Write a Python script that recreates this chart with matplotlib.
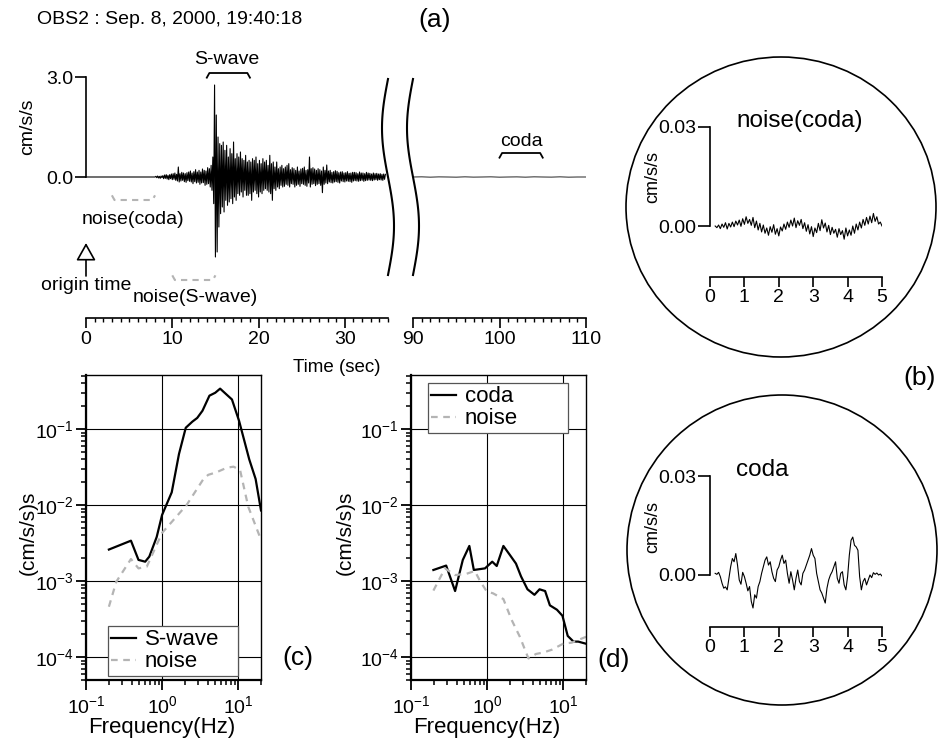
import numpy as np
import matplotlib.pyplot as plt
from matplotlib.patches import Ellipse, FancyArrowPatch
from matplotlib.lines import Line2D
from matplotlib.ticker import LogLocator, NullFormatter, LogFormatterMathtext, MultipleLocator

plt.rcParams['font.family'] = ['Liberation Sans', 'DejaVu Sans']
plt.rcParams['mathtext.fontset'] = 'custom'
plt.rcParams['mathtext.rm'] = 'Liberation Sans'
plt.rcParams['mathtext.it'] = 'Liberation Sans:italic'
plt.rcParams['mathtext.bf'] = 'Liberation Sans:bold'

W, H = 939, 744

# ---------------- data ----------------
# (a) acceleration record (cm/s/s); quiet until 8 s, then one value every 0.1 s
trace_start = 8.0
trace_dt = 0.1
trace_vals = [
    0.00, 0.02, -0.02, 0.03, -0.03, 0.02, -0.04, 0.03, -0.02, 0.04,     # 8
    -0.05, 0.06, -0.04, 0.07, -0.06, 0.05, -0.08, 0.07, -0.05, 0.09,    # 9
    -0.08, 0.10, -0.07, 0.12, -0.10, 0.08, -0.12, 0.30, -0.15, 0.10,    # 10
    -0.12, 0.14, -0.10, 0.12, -0.14, 0.10, -0.16, 0.13, -0.11, 0.15,    # 11
    -0.13, 0.18, -0.15, 0.12, -0.20, 0.16, -0.14, 0.22, -0.18, 0.15,    # 12
    -0.16, 0.20, -0.22, 0.15, -0.18, 0.24, -0.17, 0.20, -0.25, 0.18,    # 13
    -0.22, 0.28, -0.20, 0.25, -0.30, 0.35, -0.40, 0.60, -0.80, 2.76,    # 14
    -2.40, 1.86, -2.25, 1.20, -1.50, 1.00, -1.10, 0.95, -0.90, 1.05,    # 15
    -1.05, 0.80, -0.70, 0.95, -0.85, 0.60, -0.75, 0.85, -0.65, 0.70,    # 16
    -0.80, 1.05, -0.60, 0.55, -0.70, 0.70, -0.50, 0.60, -0.55, 0.75,    # 17
    -0.45, 0.55, -0.60, 0.50, -0.40, 0.65, -0.55, 0.45, -0.55, 0.50,    # 18
    -0.50, 0.45, -0.70, 0.55, -0.45, 0.50, -0.40, 0.60, -0.50, 0.40,    # 19
    -0.60, 0.50, -0.45, 0.40, -0.50, 0.55, -0.40, 0.45, -0.35, 0.50,    # 20
    -0.40, 0.35, -0.45, 0.65, -0.50, 0.40, -0.70, 0.45, -0.35, 0.30,    # 21
    -0.40, 0.45, -0.30, 0.25, -0.35, 0.30, -0.25, 0.35, -0.30, 0.25,    # 22
    -0.28, 0.30, -0.22, 0.35, -0.25, 0.40, -0.30, 0.22, -0.20, 0.28,    # 23
    -0.22, 0.25, -0.30, 0.20, -0.25, 0.30, -0.22, 0.18, -0.28, 0.24,    # 24
    -0.20, 0.26, -0.22, 0.30, -0.25, 0.20, -0.28, 0.22, -0.18, 0.60,    # 25
    -0.30, 0.25, -0.22, 0.28, -0.20, 0.24, -0.26, 0.20, -0.22, 0.25,    # 26
    -0.20, 0.22, -0.25, 0.18, -0.47, 0.30, -0.22, 0.20, -0.18, 0.36,    # 27
    -0.20, 0.18, -0.15, 0.20, -0.17, 0.14, -0.18, 0.16, -0.15, 0.19,    # 28
    -0.14, 0.17, -0.16, 0.13, -0.18, 0.15, -0.12, 0.16, -0.14, 0.12,    # 29
    -0.15, 0.13, -0.12, 0.16, -0.13, 0.11, -0.14, 0.12, -0.16, 0.14,    # 30
    -0.12, 0.14, -0.11, 0.13, -0.12, 0.10, -0.13, 0.15, -0.11, 0.12,    # 31
    -0.10, 0.12, -0.13, 0.10, -0.11, 0.14, -0.10, 0.12, -0.09, 0.11,    # 32
    -0.10, 0.09, -0.11, 0.12, -0.09, 0.10, -0.08, 0.11, -0.10, 0.09,    # 33
    -0.08, 0.10, -0.09, 0.08, -0.10, 0.09, -0.07, 0.08,                 # 34
]
late_times = np.arange(90, 111, 1)
late_vals = [0.0, 0.004, -0.004, 0.003, 0.0, -0.004, 0.004, -0.003, 0.0, 0.004, -0.004,
             0.0, 0.003, -0.004, 0.004, 0.0, -0.003, 0.004, -0.004, 0.0, 0.0]

# analysis windows (sec)
swave_win = (14.0, 19.0)
noise_s_win = (10.0, 15.0)
noise_c_win = (3.0, 8.0)
coda_win = (100.0, 105.0)

# (b) 5-s windows, values every 0.05 s from 0.15 s, in 1e-3 cm/s/s
win_start = 0.15
win_dt = 0.05
noise_coda_milli = [
    0.0, -0.5, 0.3, -0.8, 0.6, -0.4, 1.0, -0.9, 0.8, -0.3,
    1.2, -0.2, 1.5, 0.3, 1.8, -0.1, 2.2, 0.5, 2.8, 0.8,
    2.0, 0.2, 2.6, -0.5, 1.5, -1.2, 0.8, -1.8, 0.3, -2.2,
    -0.6, -2.8, -0.2, -1.9, 0.4, -2.5, -0.8, -3.0, -0.3, -1.5,
    0.6, -1.0, 1.2, -0.4, 1.8, 0.0, 2.4, -0.5, 1.6, 0.2,
    2.0, -0.8, 1.0, -1.6, 0.4, -2.4, -0.2, -3.2, -0.6, -2.0,
    0.8, -1.4, 1.9, -0.6, 0.9, -1.8, 0.2, -2.6, -0.4, -2.2,
    -1.0, -3.4, -0.8, -2.6, -1.4, -4.0, -0.6, -3.0, -1.2, -2.8,
    0.0, -2.2, 0.6, -1.2, 1.2, -0.6, 2.0, 0.2, 2.6, 0.6,
    3.0, 1.0, 3.8, 1.4, 2.8, 0.6, 1.2, 0.0,
]
coda_milli = [
    0.5, 0.2, 0.8, -0.5, -2.5, -4.0, -3.6, -4.5, -1.0, 2.5,
    5.0, 4.0, 6.5, 3.0, -1.5, -2.8, 0.8, -0.5, -2.5, -4.8,
    -3.5, -8.0, -10.0, -6.0, -7.0, -3.5, -2.0, 0.5, 2.5, 4.5,
    5.5, 3.0, 4.0, 1.0, -1.0, -2.0, 1.5, 2.5, 4.5, 6.0,
    3.5, 4.5, 0.5, -2.5, 1.0, -1.5, -4.5, -1.0, 1.5, -2.0,
    -3.0, 0.5, 1.5, 3.0, 4.5, 6.0, 8.0, 6.0, 5.0, 0.5,
    -2.0, -4.5, -5.5, -7.0, -8.5, -4.0, -1.5, 0.0, 1.0, 2.5,
    4.0, -1.0, -2.5, 0.5, 1.0, -3.0, -4.5, -0.5, 6.0, 10.5,
    11.5, 9.0, 8.5, 7.5, -0.5, -4.5, -2.0, -1.0, -3.0, -1.5,
    0.0, -0.8, 0.7, 0.2, 0.6, 0.0, 0.3, -0.3,
]

# (c) spectra of S-wave and preceding noise, (cm/s/s)s
c_swave_f = [0.2, 0.39, 0.49, 0.6, 0.68, 0.85, 1.0, 1.34, 1.67, 2.05, 2.5, 2.9,
             3.4, 4.2, 5.0, 5.8, 6.9, 8.3, 10.3, 14, 17, 20]
c_swave_a = [2.6e-3, 3.4e-3, 1.9e-3, 1.8e-3, 2.1e-3, 3.8e-3, 7.4e-3, 1.47e-2,
             4.7e-2, 0.104, 0.125, 0.14, 0.174, 0.275, 0.30, 0.34, 0.29, 0.245,
             0.128, 0.04, 0.022, 0.0085]
c_noise_f = [0.2, 0.25, 0.39, 0.49, 0.63, 1.0, 2.1, 3.5, 4.05, 5.2, 7.1, 8.7,
             10.6, 13.6, 20]
c_noise_a = [4.6e-4, 9.8e-4, 1.95e-3, 1.47e-3, 1.55e-3, 4.3e-3, 1.0e-2, 2.2e-2,
             2.5e-2, 2.7e-2, 3.1e-2, 3.2e-2, 2.9e-2, 9.5e-3, 3.5e-3]

# (d) spectra of coda and its noise
d_coda_f = [0.197, 0.29, 0.38, 0.48, 0.585, 0.67, 0.94, 1.17, 1.34, 1.64, 2.0,
            2.4, 2.8, 3.4, 4.2, 4.9, 5.8, 6.7, 8.3, 9.8, 11.5, 13.7, 15.8, 20]
d_coda_a = [1.4e-3, 1.6e-3, 7.4e-4, 1.9e-3, 2.9e-3, 1.4e-3, 1.47e-3, 1.8e-3,
            1.58e-3, 2.9e-3, 2.2e-3, 1.7e-3, 1.15e-3, 7.8e-4, 6.6e-4, 7.8e-4,
            7.4e-4, 4.8e-4, 4.2e-4, 3.5e-4, 1.9e-4, 1.6e-4, 1.6e-4, 1.5e-4]
d_noise_f = [0.197, 0.28, 0.38, 0.54, 0.69, 0.81, 0.99, 1.2, 1.64, 2.1, 2.7,
             3.5, 4.4, 5.5, 7.1, 10, 13, 20]
d_noise_a = [7.5e-4, 1.47e-3, 1.2e-3, 1.25e-3, 1.36e-3, 1.0e-3, 7.3e-4, 6.9e-4,
             5.8e-4, 3.1e-4, 1.85e-4, 9.6e-5, 1.1e-4, 1.15e-4, 1.25e-4, 1.5e-4,
             1.55e-4, 1.85e-4]

GRAY = '#b4b4b4'


def px_rect(x0, y0, x1, y1):
    return [x0 / W, 1 - y1 / H, (x1 - x0) / W, (y1 - y0) / H]


def fxy(x, y):
    return (x / W, 1 - y / H)


fig = plt.figure(figsize=(W / 100, H / 100), dpi=100, facecolor='white')


def label(x, y, s, size=14, **kw):
    kw.setdefault('ha', 'center')
    kw.setdefault('va', 'center')
    fig.text(x / W, 1 - y / H, s, fontsize=size, **kw)


# ---------------- (a) ----------------
t1 = np.concatenate([[0.0], trace_start + trace_dt * np.arange(len(trace_vals))])
v1 = np.concatenate([[0.0], trace_vals])

ax1 = fig.add_axes(px_rect(86, 60, 388, 318))
ax2 = fig.add_axes(px_rect(413, 60, 586, 318))
for ax in (ax1, ax2):
    ax.set_ylim(-4.23, 3.51)
    ax.patch.set_visible(False)
    for s in ('top', 'right'):
        ax.spines[s].set_visible(False)
    ax.spines['bottom'].set_linewidth(1.2)
    ax.xaxis.set_major_locator(MultipleLocator(10))
    ax.xaxis.set_minor_locator(MultipleLocator(1))
    ax.tick_params(axis='x', which='major', length=7, width=1.2, labelsize=14, pad=2)
    ax.tick_params(axis='x', which='minor', length=3, width=1.0)

ax1.set_xlim(0, 35)
ax2.set_xlim(90, 110)
ax1.spines['left'].set_bounds(0, 3)
ax1.spines['left'].set_linewidth(1.2)
ax1.set_yticks([0, 3])
ax1.set_yticklabels(['0.0', '3.0'])
ax1.tick_params(axis='y', length=8, width=1.2, labelsize=14, pad=1)
ax2.spines['left'].set_visible(False)
ax2.set_yticks([])

ax1.plot(t1, v1, color='black', lw=0.8, clip_on=False)
ax2.plot(late_times, late_vals, color='black', lw=0.6)


def bracket(ax, win, y, d, **kw):
    t0, t1_ = win
    ax.plot([t0, t0 + 0.3, t1_ - 0.3, t1_], [y + d, y, y, y + d], clip_on=False, **kw)


bracket(ax1, swave_win, 3.12, -0.14, color='black', lw=1.3)
bracket(ax2, coda_win, 0.72, -0.14, color='black', lw=1.3)
bracket(ax1, noise_c_win, -0.69, 0.14, color=GRAY, lw=1.5, dashes=(3, 2.5))
bracket(ax1, noise_s_win, -3.09, 0.14, color=GRAY, lw=1.5, dashes=(3, 2.5))

# axis break marks
yy = np.linspace(79, 275, 120)
for xc in (388, 413):
    xx = xc - 6 * np.sin(2 * np.pi * (yy - 79) / 196)
    fig.add_artist(Line2D(xx / W, 1 - yy / H, color='black', lw=1.5))

# origin time arrow
fig.add_artist(FancyArrowPatch(posA=fxy(86, 276), posB=fxy(86, 243),
                               transform=fig.transFigure,
                               arrowstyle='-|>,head_length=0.75,head_width=0.42',
                               mutation_scale=14.4, fc='white', ec='black', lw=1.2,
                               shrinkA=0, shrinkB=0))

label(37, 20, 'OBS2 : Sep. 8, 2000, 19:40:18', 14, ha='left')
label(435, 20, '(a)', 19)
label(227, 60, 'S-wave', 14)
label(521, 142, 'coda', 14)
label(133, 220, 'noise(coda)', 14)
label(86, 285, 'origin time', 14)
label(195, 297, 'noise(S-wave)', 14)
label(28, 127, 'cm/s/s', 14, rotation=90)
label(337, 367, 'Time (sec)', 13.5)

# ---------------- (b) insets ----------------
fig.add_artist(Ellipse(fxy(781, 207), 310 / W, 300 / H, transform=fig.transFigure,
                       fill=False, ec='black', lw=1.2))
fig.add_artist(Ellipse(fxy(782, 550), 310 / W, 310 / H, transform=fig.transFigure,
                       fill=False, ec='black', lw=1.2))

tw = win_start + win_dt * np.arange(len(noise_coda_milli))
tc = win_start + win_dt * np.arange(len(coda_milli))
insets = [
    (px_rect(710, 110, 882, 277), (-0.01545, 0.03515), tw, noise_coda_milli,
     'noise(coda)', 2.6, 177),
    (px_rect(710, 460, 882, 627), (-0.01576, 0.03485), tc, coda_milli,
     'coda', 1.51, 527),
]
for rect, ylim, tt, vals, title, tx, ylab_y in insets:
    ax = fig.add_axes(rect)
    ax.patch.set_visible(False)
    ax.set_xlim(0, 5)
    ax.set_ylim(*ylim)
    for s in ('top', 'right'):
        ax.spines[s].set_visible(False)
    ax.spines['left'].set_bounds(0, 0.03)
    ax.spines['left'].set_linewidth(1.2)
    ax.spines['bottom'].set_linewidth(1.2)
    ax.set_xticks(range(6))
    ax.set_yticks([0, 0.03])
    ax.set_yticklabels(['0.00', '0.03'])
    ax.tick_params(axis='x', length=7, width=1.2, labelsize=14, pad=2)
    ax.tick_params(axis='y', length=9, width=1.2, labelsize=14, pad=1)
    ax.plot(tt, np.array(vals) * 1e-3, color='black', lw=0.8)
    ax.text(tx, 0.0317, title, fontsize=17.5, ha='center', va='center')
    label(653, ylab_y, 'cm/s/s', 13, rotation=90)

label(920, 378, '(b)', 19)

# ---------------- (c), (d) spectra ----------------
def spec_axes(x0):
    ax = fig.add_axes(px_rect(x0, 375, x0 + 175, 680))
    ax.set_xscale('log')
    ax.set_yscale('log')
    ax.set_xlim(0.1, 20)
    ax.set_ylim(5e-5, 0.514)
    ax.grid(True, which='major', color='black', lw=0.8)
    for axis in (ax.xaxis, ax.yaxis):
        axis.set_major_locator(LogLocator(base=10, numticks=12))
        axis.set_minor_locator(LogLocator(base=10, subs=np.arange(2, 10), numticks=12))
        axis.set_minor_formatter(NullFormatter())
        axis.set_major_formatter(LogFormatterMathtext())
    ax.tick_params(which='major', length=7, width=1.3, labelsize=14)
    ax.tick_params(which='minor', length=3.5, width=1.1)
    ax.tick_params(axis='x', pad=4)
    ax.tick_params(axis='y', pad=2)
    for s in ('left', 'bottom'):
        ax.spines[s].set_linewidth(1.6)
    for s in ('top', 'right'):
        ax.spines[s].set_linewidth(1.0)
    return ax


ax_c = spec_axes(86)
ax_c.plot(c_swave_f, c_swave_a, color='black', lw=1.6, label='S-wave')
ax_c.plot(c_noise_f, c_noise_a, color=GRAY, lw=1.6, dashes=(3, 2.5), label='noise')
ax_d = spec_axes(411)
ax_d.plot(d_coda_f, d_coda_a, color='black', lw=1.6, label='coda')
ax_d.plot(d_noise_f, d_noise_a, color=GRAY, lw=1.6, dashes=(3, 2.5), label='noise')

for ax, (x0, y0, x1, y1) in ((ax_c, (108, 626, 238, 673)), (ax_d, (428, 383, 568, 430))):
    leg = ax.legend(loc='upper left', mode='expand',
                    bbox_to_anchor=(x0 / W, 1 - y1 / H, (x1 - x0) / W, (y1 - y0) / H),
                    bbox_transform=fig.transFigure, fontsize=16, frameon=True,
                    fancybox=False, framealpha=1, edgecolor='#555555',
                    handlelength=1.1, handletextpad=0.4, labelspacing=0.05,
                    borderpad=0.15, borderaxespad=0)
    leg.get_frame().set_linewidth(0.9)

label(28, 533, '(cm/s/s)s', 15, rotation=90)
label(345, 533, '(cm/s/s)s', 15, rotation=90)
label(162, 728, 'Frequency(Hz)', 16)
label(487, 728, 'Frequency(Hz)', 16)
label(298, 658, '(c)', 19)
label(614, 660, '(d)', 19)

fig.savefig('out.png', dpi=100, facecolor='white')
